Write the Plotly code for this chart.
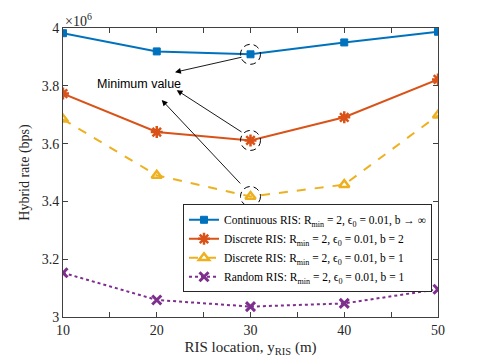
import plotly.graph_objects as go

ris_location = [10, 20, 30, 40, 50]
continuous_rate = [3.982, 3.919, 3.909, 3.950, 3.987]
discrete_b2_rate = [3.773, 3.640, 3.611, 3.691, 3.822]
discrete_b1_rate = [3.684, 3.490, 3.417, 3.458, 3.698]
random_rate = [3.153, 3.059, 3.036, 3.047, 3.096]

y_ticks = [3, 3.2, 3.4, 3.6, 3.8, 4]
y_ticktext = ['3', '3.2', '3.4', '3.6', '3.8', '4']
x_ticks = [10, 15, 20, 25, 30, 35, 40, 45, 50]
x_ticktext = ['10', '', '20', '', '30', '', '40', '', '50']

serif = '"Liberation Serif", "Times New Roman", serif'
eps = 'ϵ<sub>0</sub>'

series = [
    ('Continuous RIS: R<sub>min</sub> = 2, ' + eps + ' = 0.01, b → ∞', continuous_rate,
     '#0072BD', 'solid', dict(symbol='square', size=7, color='#0072BD', line=dict(color='#0072BD', width=1))),
    ('Discrete RIS: R<sub>min</sub> = 2, ' + eps + ' = 0.01, b = 2', discrete_b2_rate,
     '#D95319', 'solid', dict(symbol='asterisk-open', size=10, line=dict(color='#D95319', width=2.5))),
    ('Discrete RIS: R<sub>min</sub> = 2, ' + eps + ' = 0.01, b = 1', discrete_b1_rate,
     '#EDB120', 'dash', dict(symbol='triangle-up-open', size=9, line=dict(color='#EDB120', width=2.5))),
    ('Random RIS: R<sub>min</sub> = 2, ' + eps + ' = 0.01, b = 1', random_rate,
     '#7E2F8E', 'dot', dict(symbol='x-thin-open', size=9, line=dict(color='#7E2F8E', width=3))),
]

fig = go.Figure()
for name, vals, color, dash, marker in series:
    fig.add_trace(go.Scatter(x=ris_location, y=vals, name=name, mode='lines+markers',
                             line=dict(color=color, width=2, dash=dash), marker=marker))

# dashed circles around the minimum points
for vals in [continuous_rate, discrete_b2_rate, discrete_b1_rate]:
    fig.add_shape(type='circle', xref='x', yref='y', xsizemode='pixel', ysizemode='pixel',
                  xanchor=ris_location[2], yanchor=vals[2], x0=-10, x1=10, y0=-10, y1=10,
                  line=dict(color='black', width=1, dash='6px,4px'))

# arrows pointing to the "Minimum value" label
arrows = [((21.95, 3.847), (29.2, 3.90)),
          ((22.13, 3.785), (29.2, 3.637)),
          ((20.53, 3.751), (29.06, 3.457))]
for (hx, hy), (tx, ty) in arrows:
    fig.add_annotation(x=hx, y=hy, ax=tx, ay=ty, xref='x', yref='y', axref='x', ayref='y',
                       text='', showarrow=True, arrowhead=2, arrowsize=1.3, arrowwidth=0.9,
                       arrowcolor='black')

fig.add_annotation(x=18.1, y=3.805, xref='x', yref='y', text='Minimum value', showarrow=False,
                   font=dict(family='Liberation Sans, Arial, sans-serif', size=12.5, color='black'))
fig.add_annotation(x=0, y=1, xref='paper', yref='paper', xanchor='left', yanchor='bottom',
                   text='×10<sup>6</sup>', showarrow=False, yshift=-3,
                   font=dict(family=serif, size=14, color='#262626'))

axis_common = dict(showline=True, mirror='ticks', linecolor='#404040', linewidth=1,
                   ticks='inside', ticklen=5, tickcolor='#404040', showgrid=False, zeroline=False,
                   automargin=False, tickfont=dict(family=serif, size=14, color='#262626'))
fig.update_xaxes(range=[10, 50], tickvals=x_ticks, ticktext=x_ticktext,
                 title=dict(text='RIS location, y<sub>RIS</sub> (m)', standoff=4,
                            font=dict(family=serif, size=15, color='#262626')), **axis_common)
fig.update_yaxes(range=[3, 4], tickvals=y_ticks, ticktext=y_ticktext,
                 title=dict(text='Hybrid rate (bps)', standoff=8,
                            font=dict(family=serif, size=14, color='#262626')), **axis_common)

# the page adds an 8px body margin, so the figure is sized to fit beside it
fig.update_layout(
    width=477, height=355,
    margin=dict(l=55, r=47, t=20, b=46, autoexpand=False),
    plot_bgcolor='white', paper_bgcolor='white',
    legend=dict(x=0.32, y=0.39, xanchor='left', yanchor='top', bgcolor='white',
                bordercolor='#262626', borderwidth=1, tracegroupgap=0,
                font=dict(family=serif, size=11.5, color='black')),
)

fig.write_html("out.html")
